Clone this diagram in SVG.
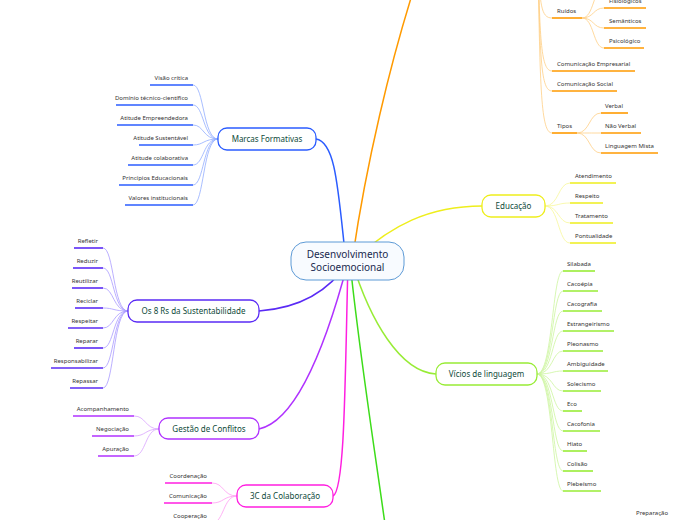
<svg xmlns="http://www.w3.org/2000/svg" width="696" height="520" viewBox="0 0 696 520">
<style>
text{font-family:"Noto Sans","Open Sans","DejaVu Sans",sans-serif}
.c{font-size:6px;fill:#333}
.e{text-anchor:end}
.b{font-size:8px;fill:#0e4a3a;text-anchor:middle}
.m{font-size:10px;fill:#1a2a4f;text-anchor:middle}
.n{fill:#fff;stroke-width:1.3}
path{fill:none}
.u{stroke-width:1.6}
.l{stroke-width:0.8}
.bl{stroke:#2b5cff}.blL{stroke:#93adff}
.iv{stroke:#5a2bf5}.ivL{stroke:#a99bff}
.vi{stroke:#b032ff}.viL{stroke:#d9a3ff}
.mg{stroke:#ff1fe0}.mgL{stroke:#ff9ef2}
.ye{stroke:#eeee1c}.yeL{stroke:#f7f79a}
.lg{stroke:#98ec36}.lgL{stroke:#cdf5a0}
.dg{stroke:#3ddc1a}
.or{stroke:#ff9a00}.orL{stroke:#ffcf85}
</style>
<g id="connectors">
<!-- main branches -->
<path class="or" stroke-width="1.5" d="M352,262 C365,170 390,60 420,-30"/>
<path class="bl" stroke-width="1.5" d="M346,262 C338,190 336,142 316,139"/>
<path class="ye" stroke-width="1.5" d="M352,262 C390,225 430,206 482,206"/>
<path class="lg" stroke-width="1.5" d="M352,262 C370,320 400,372 436,374"/>
<path class="dg" stroke-width="1.5" d="M350,262 C360,360 375,450 390,560"/>
<path class="mg" stroke-width="1.5" d="M348,262 C345,380 345,490 333,496"/>
<path class="vi" stroke-width="1.5" d="M348,262 C330,330 300,420 259,429"/>
<path class="iv" stroke-width="1.5" d="M348,262 C330,290 300,308 259,311"/>
<!-- Marcas Formativas children -->
<g class="blL l">
<path d="M218,139 C203,139 204,85 193,85"/>
<path d="M218,139 C203,139 204,105 193,105"/>
<path d="M218,139 C203,139 204,125 193,125"/>
<path d="M218,139 C203,139 204,145 193,145"/>
<path d="M218,139 C203,139 204,165 193,165"/>
<path d="M218,139 C203,139 204,185 193,185"/>
<path d="M218,139 C203,139 204,205 193,205"/>
</g>
<g class="bl u">
<path d="M150,85 H193"/><path d="M116,105 H193"/><path d="M117,125 H193"/><path d="M139,145 H193"/><path d="M128,165 H193"/><path d="M119,185 H193"/><path d="M125,205 H193"/>
</g>
<!-- 8 Rs children -->
<g class="ivL l">
<path d="M128,311 C113,311 114,248 103,248"/>
<path d="M128,311 C113,311 114,268 103,268"/>
<path d="M128,311 C113,311 114,288 103,288"/>
<path d="M128,311 C113,311 114,308 103,308"/>
<path d="M128,311 C113,311 114,328 103,328"/>
<path d="M128,311 C113,311 114,348 103,348"/>
<path d="M128,311 C113,311 114,368 103,368"/>
<path d="M128,311 C113,311 114,388 103,388"/>
</g>
<g class="iv u">
<path d="M74,248 H103"/><path d="M73,268 H103"/><path d="M72,288 H103"/><path d="M75,308 H103"/><path d="M68,328 H103"/><path d="M74,348 H103"/><path d="M51,368 H103"/><path d="M70,388 H103"/>
</g>
<!-- Gestão children -->
<g class="viL l">
<path d="M159,429 C145,429 146,416 134,416"/>
<path d="M159,429 C145,429 146,436 134,436"/>
<path d="M159,429 C145,429 146,456 134,456"/>
</g>
<g class="vi u">
<path d="M73,416 H134"/><path d="M92,436 H134"/><path d="M98,456 H134"/>
</g>
<!-- 3C children -->
<g class="mgL l">
<path d="M237,496 C223,496 224,483 212,483"/>
<path d="M237,496 C223,496 224,503 212,503"/>
<path d="M237,496 C223,496 224,523 212,523"/>
</g>
<g class="mg u">
<path d="M165,483 H212"/><path d="M164,503 H212"/><path d="M166,523 H212"/>
</g>
<!-- Educação children -->
<g class="yeL l">
<path d="M545,206 C559,206 558,183 570,183"/>
<path d="M545,206 C559,206 558,203 570,203"/>
<path d="M545,206 C559,206 558,223 570,223"/>
<path d="M545,206 C559,206 558,243 570,243"/>
</g>
<g class="ye u">
<path d="M570,183 H616"/><path d="M570,203 H603"/><path d="M570,223 H613"/><path d="M570,243 H616"/>
</g>
<!-- Vícios children -->
<g class="lgL l">
<path d="M537,374 C553,374 552,271 563,271"/>
<path d="M537,374 C553,374 552,291 563,291"/>
<path d="M537,374 C553,374 552,311 563,311"/>
<path d="M537,374 C553,374 552,331 563,331"/>
<path d="M537,374 C553,374 552,351 563,351"/>
<path d="M537,374 C553,374 552,371 563,371"/>
<path d="M537,374 C553,374 552,391 563,391"/>
<path d="M537,374 C553,374 552,411 563,411"/>
<path d="M537,374 C553,374 552,431 563,431"/>
<path d="M537,374 C553,374 552,451 563,451"/>
<path d="M537,374 C553,374 552,471 563,471"/>
<path d="M537,374 C553,374 552,491 563,491"/>
</g>
<g class="lg u">
<path d="M563,271 H595"/><path d="M563,291 H598"/><path d="M563,311 H602"/><path d="M563,331 H614"/><path d="M563,351 H603"/><path d="M563,371 H608"/><path d="M563,391 H601"/><path d="M563,411 H582"/><path d="M563,431 H600"/><path d="M563,451 H587"/><path d="M563,471 H593"/><path d="M563,491 H601"/>
</g>
<!-- Orange children -->
<g class="orL l">
<path d="M538,-40 C540,5 541,18 552,18"/>
<path d="M538,-40 C540,40 541,71 552,71"/>
<path d="M538,-40 C540,60 541,91 552,91"/>
<path d="M538,-40 C540,90 541,133 552,133"/>
<path d="M582,18 C594,18 593,-12 604,-12"/>
<path d="M582,18 C594,18 593,8 604,8"/>
<path d="M582,18 C594,18 593,28 604,28"/>
<path d="M582,18 C594,18 593,48 604,48"/>
<path d="M577,133 C590,133 589,113 601,113"/>
<path d="M577,133 C590,133 589,133 601,133"/>
<path d="M577,133 C590,133 589,153 601,153"/>
</g>
<g class="or u">
<path d="M552,18 H582"/><path d="M604,8 H646"/><path d="M604,28 H646"/><path d="M604,48 H644"/>
<path d="M552,71 H635"/><path d="M552,91 H617"/><path d="M552,133 H577"/>
<path d="M601,113 H628"/><path d="M601,133 H641"/><path d="M601,153 H658"/>
</g>
</g>
<g id="center">
<rect x="291" y="242" width="113" height="38" rx="15" fill="#f8fbff" stroke="#5d9ad6" stroke-width="1"/>
<text class="m" x="347.5" y="258">Desenvolvimento</text>
<text class="m" x="347.5" y="271">Socioemocional</text>
</g>
<g id="marcas">
<rect class="n bl" x="218" y="128" width="98" height="22" rx="9"/>
<text class="b" x="267" y="142">Marcas Formativas</text>
<text class="c e" x="188" y="80">Visão crítica</text>
<text class="c e" x="188" y="100">Domínio técnico-científico</text>
<text class="c e" x="188" y="120">Atitude Empreendedora</text>
<text class="c e" x="188" y="140">Atitude Sustentável</text>
<text class="c e" x="188" y="160">Atitude colaborativa</text>
<text class="c e" x="188" y="180">Princípios Educacionais</text>
<text class="c e" x="188" y="200">Valores institucionais</text>
</g>
<g id="rs">
<rect class="n iv" x="128" y="300" width="131" height="22" rx="9"/>
<text class="b" x="193.5" y="314">Os 8 Rs da Sustentabilidade</text>
<text class="c e" x="98" y="243">Refletir</text>
<text class="c e" x="98" y="263">Reduzir</text>
<text class="c e" x="98" y="283">Reutilizar</text>
<text class="c e" x="98" y="303">Reciclar</text>
<text class="c e" x="98" y="323">Respeitar</text>
<text class="c e" x="98" y="343">Reparar</text>
<text class="c e" x="98" y="363">Responsabilizar</text>
<text class="c e" x="98" y="383">Repassar</text>
</g>
<g id="gestao">
<rect class="n vi" x="159" y="418" width="100" height="21" rx="9"/>
<text class="b" x="209" y="431.5">Gestão de Conflitos</text>
<text class="c e" x="129" y="411">Acompanhamento</text>
<text class="c e" x="129" y="431">Negociação</text>
<text class="c e" x="129" y="451">Apuração</text>
</g>
<g id="colab">
<rect class="n mg" x="237" y="485" width="96" height="22" rx="9"/>
<text class="b" x="285" y="499">3C da Colaboração</text>
<text class="c e" x="207" y="478">Coordenação</text>
<text class="c e" x="207" y="498">Comunicação</text>
<text class="c e" x="207" y="518">Cooperação</text>
</g>
<g id="educacao">
<rect class="n ye" x="482" y="195" width="63" height="22" rx="9"/>
<text class="b" x="513.5" y="209">Educação</text>
<text class="c" x="575" y="178">Atendimento</text>
<text class="c" x="575" y="198">Respeito</text>
<text class="c" x="575" y="218">Tratamento</text>
<text class="c" x="575" y="238">Pontualidade</text>
</g>
<g id="vicios">
<rect class="n lg" x="436" y="363" width="101" height="22" rx="9"/>
<text class="b" x="486.5" y="377">Vícios de linguagem</text>
<text class="c" x="567" y="266">Silabada</text>
<text class="c" x="567" y="286">Cacoépia</text>
<text class="c" x="567" y="306">Cacografia</text>
<text class="c" x="567" y="326">Estrangeirismo</text>
<text class="c" x="567" y="346">Pleonasmo</text>
<text class="c" x="567" y="366">Ambiguidade</text>
<text class="c" x="567" y="386">Solecismo</text>
<text class="c" x="567" y="406">Eco</text>
<text class="c" x="567" y="426">Cacofonia</text>
<text class="c" x="567" y="446">Hiato</text>
<text class="c" x="567" y="466">Colisão</text>
<text class="c" x="567" y="486">Plebeísmo</text>
</g>
<g id="comunicacao">
<text class="c" x="557" y="13">Ruídos</text>
<text class="c" x="609" y="3">Fisiológicos</text>
<text class="c" x="609" y="23">Semânticos</text>
<text class="c" x="609" y="43">Psicológico</text>
<text class="c" x="557" y="66">Comunicação Empresarial</text>
<text class="c" x="557" y="86">Comunicação Social</text>
<text class="c" x="557" y="128">Tipos</text>
<text class="c" x="605" y="108">Verbal</text>
<text class="c" x="605" y="128">Não Verbal</text>
<text class="c" x="605" y="148">Linguagem Mista</text>
</g>
<g id="preparacao">
<text class="c" x="636" y="515">Preparação</text>
</g>
</svg>
